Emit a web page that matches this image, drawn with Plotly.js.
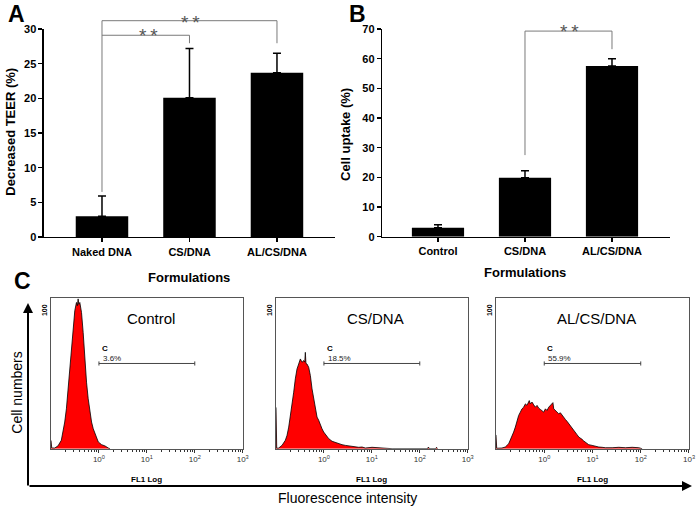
<!DOCTYPE html>
<html>
<head>
<meta charset="utf-8">
<script src="https://cdn.plot.ly/plotly-3.0.1.min.js"></script>
<style>
  html, body { margin: 0; padding: 0; background: #fff; }
  #fig { width: 697px; height: 509px; }
</style>
</head>
<body>
<div id="fig"></div>
<script>
/* panel A: decreased TEER */
var catsA = ['Naked DNA', 'CS/DNA', 'AL/CS/DNA'];
var teer = [3.0, 20.1, 23.7];
var teerErr = [2.9, 7.1, 2.8];

/* panel B: cell uptake */
var catsB = ['Control', 'CS/DNA', 'AL/CS/DNA'];
var uptake = [3.0, 19.9, 57.5];
var uptakeErr = [1.0, 2.3, 2.5];

/* panel C: flow cytometry histograms, x = log10(FL1), y = cell count */
var ctrlX = [-1.0, -0.985, -0.924, -0.855, -0.785, -0.714, -0.679, -0.644, -0.609, -0.574, -0.539,
  -0.504, -0.469, -0.45, -0.434, -0.42, -0.399, -0.364, -0.329, -0.294, -0.259, -0.224, -0.189,
  -0.154, -0.119, -0.084, -0.049, -0.014, 0.056, 0.126, 0.196, 0.231];
var ctrlY = [6, 0.5, 0.5, 2.0, 6.1, 19.4, 29, 43.5, 60.5, 77.4, 91.9,
  100.4, 106.4, 104, 109, 105, 106.4, 99.1, 84.6, 65.3, 48.4, 36.3, 26.6,
  19.4, 14.5, 10.9, 7.3, 4.9, 2.9, 2.0, 0.5, 0];

var csX = [-1.0, -0.985, -0.944, -0.875, -0.805, -0.770, -0.735, -0.701, -0.666, -0.631, -0.597,
  -0.562, -0.527, -0.492, -0.457, -0.422, -0.40, -0.388, -0.375, -0.353, -0.318, -0.283, -0.248,
  -0.214, -0.179, -0.144, -0.109, -0.074, -0.040, -0.005, 0.030, 0.100, 0.169, 0.239, 0.308,
  0.378, 0.447, 0.517, 0.587, 0.656, 0.726, 0.795, 0.865, 1.004, 1.144, 1.282, 1.422,
  2.16, 2.18, 2.2, 2.33, 2.35, 2.37];
var csY = [30, 0.3, 0.5, 2.4, 6.1, 9.7, 15.7, 23, 31.4, 41.1, 50.8,
  58, 61.6, 65.3, 62.9, 64.1, 63, 70.1, 62, 61.6, 59.2, 53.2, 43.5,
  36.3, 29, 23, 20.6, 17, 14.5, 12.1, 10.2, 7.3, 5.4, 4.4, 3.6,
  2.9, 2.4, 2.0, 2.0, 1.2, 1.0, 1.2, 0.5, 1.0, 0.5, 0.2, 0,
  0, 1.2, 0, 0, 1.0, 0];

var alX = [-1.0, -0.985, -0.876, -0.807, -0.737, -0.703, -0.668, -0.634, -0.599, -0.564, -0.530,
  -0.495, -0.461, -0.426, -0.391, -0.357, -0.322, -0.31, -0.288, -0.253, -0.218, -0.184, -0.149,
  -0.115, -0.080, -0.046, -0.011, 0.024, 0.058, 0.093, 0.127, 0.162, 0.18, 0.197, 0.231, 0.266,
  0.300, 0.335, 0.369, 0.404, 0.438, 0.473, 0.508, 0.542, 0.577, 0.611, 0.646, 0.680, 0.715,
  0.749, 0.784, 0.819, 0.853, 0.888, 0.922, 0.992, 1.061, 1.130, 1.199, 1.268, 1.407, 1.545,
  1.683, 1.822, 1.960, 2.029];
var alY = [10, 0.3, 0.5, 1.2, 3.6, 6.1, 8.5, 12.1, 15.7, 20.6, 24.2,
  26.6, 29, 30.2, 32.6, 31.5, 33.9, 35, 32.6, 33.9, 31.9, 30.2, 31.5,
  29.5, 28.6, 27.8, 26.6, 29, 27.8, 30.2, 31.5, 32.6, 33.5, 29, 27.8, 27.1,
  25.4, 26.1, 24.2, 22.3, 21.3, 19.9, 18.1, 17, 15, 13.3, 11.6, 10.2, 8.5,
  7.8, 6.8, 5.6, 4.9, 3.6, 2.9, 2.4, 1.7, 1.2, 1.0, 0.7, 0.7, 1.0,
  0.7, 1.0, 0.7, 0];

var histTitles = ['Control', 'CS/DNA', 'AL/CS/DNA'];
var gateLabels = ['3.6%', '18.5%', '55.9%'];
var gateRange = [0, 2];
var decadeTicks = [0, 1, 2, 3];
var decadeText = ['10<sup>0</sup>', '10<sup>1</sup>', '10<sup>2</sup>', '10<sup>3</sup>'];

var FONT = 'Arial, "Liberation Sans", sans-serif';
var BRACKET = '#7a7a7a';

function zeros(arr) { return arr.map(function(){ return 0; }); }

/* bar panel axes: [domain, range] ; bracket axes reuse the same scale but reach higher */
var domA = [0.5344, 0.943], topA = 30;
var domB = [0.535, 0.943], topB = 70;
var bracketTop = 0.995;

var traces = [];

traces.push({
    type: 'bar', x: catsA, y: teer, xaxis: 'x', yaxis: 'y',
    width: 0.6, marker: {color: '#000'},
    error_y: {type: 'data', array: teerErr, arrayminus: zeros(teerErr), symmetric: false,
              color: '#000', thickness: 1.5, width: 4},
    hoverinfo: 'skip'
});
traces.push({
    type: 'bar', x: catsB, y: uptake, xaxis: 'x2', yaxis: 'y2',
    width: 0.6, marker: {color: '#000'},
    error_y: {type: 'data', array: uptakeErr, arrayminus: zeros(uptakeErr), symmetric: false,
              color: '#000', thickness: 1.5, width: 4},
    hoverinfo: 'skip'
});

/* significance brackets (on the taller helper axes y6 / y7) */
function bracket(xa, ya, xs, ys) {
    return {type: 'scatter', mode: 'lines', x: xs, y: ys, xaxis: xa, yaxis: ya,
            line: {color: BRACKET, width: 1}, hoverinfo: 'skip'};
}
traces.push(bracket('x', 'y6', [catsA[0], catsA[0], catsA[2], catsA[2]], [6.5, 31.2, 31.2, 27.95]));
traces.push(bracket('x', 'y6', [catsA[0], catsA[1], catsA[1]], [29.1, 29.1, 27.95]));
traces.push(bracket('x2', 'y7', [catsB[1], catsB[1], catsB[2], catsB[2]], [27.5, 69.3, 69.3, 63.2]));

var hists = [[ctrlX, ctrlY], [csX, csY], [alX, alY]];
hists.forEach(function(h, i){
    traces.push({
        type: 'scatter', mode: 'lines', x: h[0], y: h[1],
        xaxis: 'x' + (i + 3), yaxis: 'y' + (i + 3),
        fill: 'tozeroy', fillcolor: '#ff0000',
        line: {color: '#000', width: 0.8},
        hoverinfo: 'skip'
    });
});

/* minor ticks for the log scale (2..9 in each decade) */
var minorVals = [];
for (var d = -1; d < 3; d++) {
    for (var m = 2; m <= 9; m++) minorVals.push(d + Math.log10(m));
}

var barAxisX = {
    type: 'category', showline: true, linecolor: '#000', linewidth: 1.5,
    ticks: 'outside', ticklen: 4, tickwidth: 1.5, tickcolor: '#000',
    tickfont: {family: FONT, size: 11, color: '#000', weight: 'bold'},
    showgrid: false, zeroline: false, fixedrange: true
};
var barAxisY = {
    showline: true, linecolor: '#000', linewidth: 1.5,
    ticks: 'outside', ticklen: 4, tickwidth: 1.5, tickcolor: '#000',
    tickfont: {family: FONT, size: 11, color: '#000', weight: 'bold'},
    showgrid: false, zeroline: false, fixedrange: true
};
function helperY(dom, top, anchor) {
    var span = (bracketTop - dom[0]) / (dom[1] - dom[0]) * top;
    return {domain: [dom[0], bracketTop], range: [0, span], anchor: anchor, visible: false, fixedrange: true};
}

var layout = {
    width: 697, height: 509,
    margin: {l: 0, r: 0, t: 0, b: 0},
    paper_bgcolor: '#fff', plot_bgcolor: 'rgba(0,0,0,0)',
    showlegend: false,
    font: {family: FONT, color: '#000'},
    xaxis: Object.assign({}, barAxisX, {domain: [0.0631, 0.4806], range: [-0.663, 2.663], anchor: 'y'}),
    yaxis: Object.assign({}, barAxisY, {domain: domA, range: [0, topA], dtick: 5, anchor: 'x'}),
    xaxis2: Object.assign({}, barAxisX, {domain: [0.5485, 0.9613], range: [-0.640, 2.667], anchor: 'y2'}),
    yaxis2: Object.assign({}, barAxisY, {domain: domB, range: [0, topB], dtick: 10, anchor: 'x2'}),
    yaxis6: helperY(domA, topA, 'x'),
    yaxis7: helperY(domB, topB, 'x2'),
    shapes: [],
    annotations: []
};

var histDomains = [[0.0732, 0.3482], [0.396, 0.671], [0.7116, 0.9885]];
histDomains.forEach(function(dom, i){
    var n = i + 3;
    layout['xaxis' + n] = {
        domain: dom, range: [-1, 3], anchor: 'y' + n,
        showline: true, mirror: true, linecolor: '#555', linewidth: 1,
        ticks: 'outside', ticklen: 3, tickcolor: '#333',
        tickvals: decadeTicks, ticktext: decadeText,
        tickfont: {family: FONT, size: 8, color: '#333'},
        minor: {tickvals: minorVals, ticks: 'outside', ticklen: 2, tickcolor: '#333'},
        showgrid: false, zeroline: false, fixedrange: true
    };
    layout['yaxis' + n] = {
        domain: [0.1185, 0.4155], range: [0, 110], anchor: 'x' + n,
        showline: true, mirror: true, linecolor: '#555', linewidth: 1,
        ticks: '', tickvals: [100], ticktext: ['100'], tickangle: -90,
        tickfont: {family: FONT, size: 7, color: '#000', weight: 'bold'},
        showgrid: false, zeroline: false, fixedrange: true
    };

    var xr = 'x' + n, yr = 'y' + n;
    /* gate marker */
    layout.shapes.push({type: 'line', xref: xr, yref: yr, x0: gateRange[0], x1: gateRange[1], y0: 62, y1: 62,
                        line: {color: '#444', width: 1}});
    layout.shapes.push({type: 'line', xref: xr, yref: yr, x0: gateRange[0], x1: gateRange[0], y0: 60.5, y1: 63.5,
                        line: {color: '#444', width: 1}});
    layout.shapes.push({type: 'line', xref: xr, yref: yr, x0: gateRange[1], x1: gateRange[1], y0: 60.5, y1: 63.5,
                        line: {color: '#444', width: 1}});
    layout.annotations.push({xref: xr, yref: yr, x: gateRange[0] + 0.02, y: 72.8, text: 'C', showarrow: false,
                             xanchor: 'left', yanchor: 'middle', font: {family: FONT, size: 8, weight: 'bold'}});
    layout.annotations.push({xref: xr, yref: yr, x: gateRange[0] + 0.04, y: 65.5, text: gateLabels[i], showarrow: false,
                             xanchor: 'left', yanchor: 'middle', font: {family: FONT, size: 8, color: '#222'}});
    layout.annotations.push({xref: xr, yref: yr, x: 1.08, y: 94.8, text: histTitles[i], showarrow: false,
                             xanchor: 'center', yanchor: 'middle', font: {family: FONT, size: 15, color: '#000'}});
    layout.annotations.push({xref: xr + ' domain', yref: 'paper', x: 0.5, y: 0.0589, text: 'FL1 Log', showarrow: false,
                             xanchor: 'center', yanchor: 'middle', font: {family: FONT, size: 8, weight: 'bold'}});
});

function stars(xa, ya, x, y) {
    return {xref: xa, yref: ya, x: x, y: y, text: '*\u2009*', showarrow: false,
            xanchor: 'center', yanchor: 'middle',
            font: {family: FONT, size: 19, color: '#555'}};
}
layout.annotations.push(stars('x', 'y6', 0.53, 29.0));
layout.annotations.push(stars('x', 'y6', 1.01, 30.9));
layout.annotations.push(stars('x2', 'y7', 1.517, 69.0));

/* titles */
function ptext(x, y, text, size, opts) {
    return Object.assign({xref: 'paper', yref: 'paper', x: x / 697, y: 1 - y / 509, text: text, showarrow: false,
                          xanchor: 'center', yanchor: 'middle',
                          font: {family: FONT, size: size, color: '#000', weight: 'bold'}}, opts || {});
}
layout.annotations.push(ptext(16, 14, 'A', 23));
layout.annotations.push(ptext(357, 14, 'B', 23));
layout.annotations.push(ptext(22, 281, 'C', 23));
layout.annotations.push(ptext(10.7, 132, 'Decreased TEER (%)', 13, {textangle: -90}));
layout.annotations.push(ptext(345, 135, 'Cell uptake (%)', 13, {textangle: -90}));
layout.annotations.push(ptext(189.5, 277, 'Formulations', 13));
layout.annotations.push(ptext(525, 272, 'Formulations', 13));
layout.annotations.push(ptext(16.7, 393, 'Cell numbers', 14, {textangle: -90, font: {family: FONT, size: 14, color: '#000'}}));
layout.annotations.push(ptext(347, 498, 'Fluorescence intensity', 14, {font: {family: FONT, size: 14, color: '#000'}}));

/* big axes of panel C */
layout.annotations.push({xref: 'paper', yref: 'paper', x: 692 / 697, y: 1 - 486 / 509, ax: -664, ay: 0,
                         text: '', showarrow: true, arrowhead: 2, arrowsize: 1, arrowwidth: 2, arrowcolor: '#000',
                         standoff: 0, startstandoff: 0});
layout.annotations.push({xref: 'paper', yref: 'paper', x: 28 / 697, y: 1 - 303 / 509, ax: 0, ay: 184,
                         text: '', showarrow: true, arrowhead: 2, arrowsize: 1, arrowwidth: 2, arrowcolor: '#000',
                         standoff: 0, startstandoff: 0});

Plotly.newPlot('fig', traces, layout, {staticPlot: true, displayModeBar: false});
</script>
</body>
</html>
